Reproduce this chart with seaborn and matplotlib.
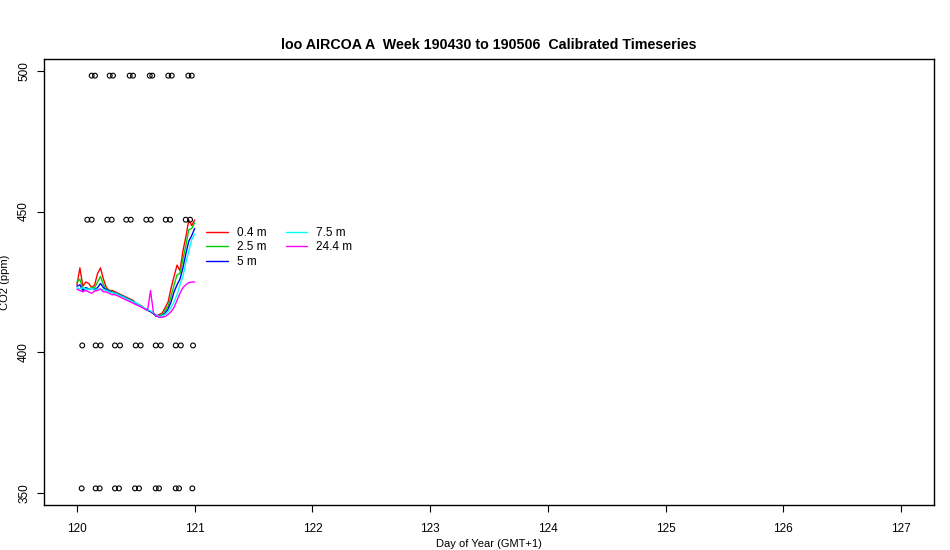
import pandas as pd
import matplotlib
matplotlib.use("Agg")
import matplotlib.pyplot as plt
import seaborn as sns

# day of year (GMT+1), one value every 0.025 day
days = [120.000, 120.025, 120.050, 120.075, 120.100, 120.125, 120.150, 120.175,
        120.200, 120.225, 120.250, 120.275, 120.300, 120.325, 120.350, 120.375,
        120.400, 120.425, 120.450, 120.475, 120.500, 120.525, 120.550, 120.575,
        120.600, 120.625, 120.650, 120.675, 120.700, 120.725, 120.750, 120.775,
        120.800, 120.825, 120.850, 120.875, 120.900, 120.925, 120.950, 120.975,
        121.000]

co2_04 = [424.0, 430.0, 423.5, 425.0, 424.5, 423.0, 424.0, 428.0, 430.0, 426.0,
          423.0, 422.0, 422.0, 421.5, 421.0, 420.5, 420.0, 419.5, 419.0, 418.5,
          417.5, 417.0, 416.5, 415.5, 415.0, 414.5, 413.8, 413.0, 413.5, 414.0,
          416.0, 418.0, 423.0, 427.0, 431.0, 429.0, 436.0, 441.0, 447.0, 445.0,
          447.0]
co2_25 = [425.0, 426.0, 422.5, 423.0, 422.5, 423.0, 423.0, 425.0, 427.0, 424.0,
          422.5, 422.0, 421.5, 421.0, 420.8, 420.3, 419.8, 419.2, 418.8, 418.2,
          417.5, 417.0, 416.3, 415.6, 415.0, 414.6, 413.7, 413.0, 413.0, 413.5,
          415.0, 416.5, 420.0, 424.0, 427.5, 428.0, 433.0, 438.0, 443.5, 444.0,
          446.0]
co2_5 = [423.5, 424.0, 422.0, 423.0, 422.5, 422.7, 422.3, 423.0, 424.5, 423.0,
         422.2, 421.8, 421.3, 421.0, 420.6, 420.1, 419.7, 419.1, 418.6, 418.0,
         417.5, 416.8, 416.2, 415.6, 415.0, 414.5, 413.8, 412.8, 412.8, 413.0,
         414.0, 415.5, 418.0, 421.5, 424.0, 426.0, 430.0, 435.0, 439.5, 441.5,
         444.0]
co2_75 = [423.0, 422.5, 423.0, 422.5, 422.5, 422.8, 422.0, 422.5, 422.5, 422.3,
          422.0, 421.5, 421.2, 421.0, 420.5, 420.0, 419.6, 419.0, 418.5, 418.0,
          417.6, 417.0, 416.3, 415.8, 415.2, 414.8, 414.0, 413.2, 412.8, 413.0,
          413.5, 414.5, 416.0, 418.0, 420.5, 424.0, 427.0, 432.0, 436.0, 440.0,
          442.0]
co2_244 = [422.5, 422.0, 421.5, 422.0, 421.5, 421.0, 421.8, 422.0, 422.5, 421.5,
           421.5, 421.0, 420.5, 420.5, 420.0, 419.5, 419.0, 418.5, 418.0, 417.5,
           417.0, 416.5, 416.0, 415.5, 415.0, 422.0, 414.0, 413.0, 412.5, 412.5,
           412.8, 413.5, 414.5, 416.0, 418.5, 421.0, 423.0, 424.0, 424.8, 425.0,
           425.0]

heights = ["0.4 m", "2.5 m", "5 m", "7.5 m", "24.4 m"]
colors = ["#ff0000", "#00cd00", "#0000ff", "#00ffff", "#ff00ff"]

# calibration standard samples
std_x = [120.125, 120.153, 120.278, 120.306, 120.448, 120.476, 120.618, 120.640,
         120.776, 120.805, 120.946, 120.975,
         120.088, 120.125, 120.258, 120.295, 120.419, 120.457, 120.589, 120.627,
         120.754, 120.791, 120.924, 120.961,
         120.045, 120.159, 120.201, 120.323, 120.366, 120.499, 120.541, 120.669,
         120.712, 120.839, 120.882, 120.986,
         120.040, 120.159, 120.193, 120.323, 120.357, 120.493, 120.527, 120.669,
         120.697, 120.839, 120.867, 120.980]
std_y = [498.2] * 12 + [447.1] * 12 + [402.5] * 12 + [351.8] * 12

frames = []
for name, vals in zip(heights, [co2_04, co2_25, co2_5, co2_75, co2_244]):
    frames.append(pd.DataFrame({"day": days, "co2": vals, "height": name}))
df = pd.concat(frames, ignore_index=True)

sns.set_style("ticks")
plt.rcParams['font.family'] = ['Liberation Sans', 'DejaVu Sans']
plt.rcParams['text.color'] = 'black'
plt.rcParams['axes.labelcolor'] = 'black'
plt.rcParams['xtick.color'] = 'black'
plt.rcParams['ytick.color'] = 'black'

fig = plt.figure(figsize=(9.5, 5.5), dpi=100)
ax = fig.add_axes([0.0463, 0.0818, 0.9369, 0.8109])

sns.scatterplot(x=std_x, y=std_y, ax=ax, marker="o", s=12,
                facecolors="none", edgecolor="black", linewidth=0.8, zorder=3)
sns.lineplot(data=df, x="day", y="co2", hue="height", hue_order=heights,
             palette=dict(zip(heights, colors)), estimator=None, linewidth=1,
             ax=ax, legend=True)

ax.set_xlim(119.72, 127.28)
ax.set_ylim(345.9, 504.1)
ax.set_xticks(range(120, 128))
ax.set_yticks([350, 400, 450, 500])
ax.set_yticklabels(["350", "400", "450", "500"], rotation=90, va="center")
ax.tick_params(length=5, width=0.8, labelsize=8.5, color="black",
               labelcolor="black")
ax.tick_params(axis="x", pad=8)
ax.tick_params(axis="y", pad=5)
for sp in ax.spines.values():
    sp.set_linewidth(1)
    sp.set_color("black")

ax.set_xlabel("Day of Year (GMT+1)", fontsize=8, labelpad=3)
ax.set_ylabel("CO2 (ppm)", fontsize=8)
ax.yaxis.set_label_coords(-0.038, 0.5)
ax.set_title("loo AIRCOA A  Week 190430 to 190506  Calibrated Timeseries",
             fontsize=10.3, fontweight="bold", pad=7)

handles, labels = ax.get_legend_handles_labels()
ax.legend(handles, labels, loc="upper left", bbox_to_anchor=(121.01, 448.3),
          bbox_transform=ax.transData, ncol=2, frameon=False, fontsize=8.5,
          handlelength=1.8, columnspacing=1.6, labelspacing=0.2,
          handletextpad=0.8)

fig.savefig("out.png", dpi=100)
